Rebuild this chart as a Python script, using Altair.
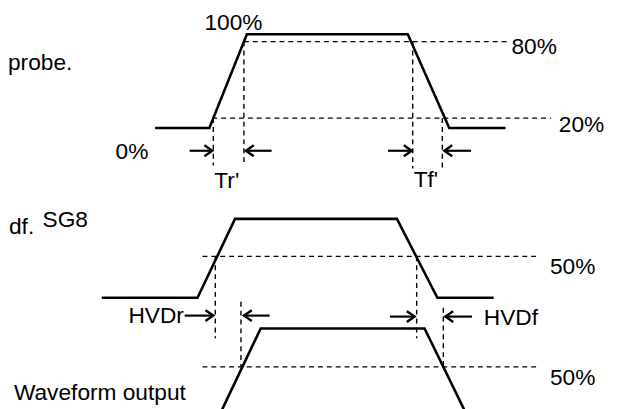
import altair as alt
import pandas as pd

# ---- waveform vertices (diagram coordinates, px of the original figure) ----
top_x = [157, 212, 250, 413, 455, 512]
top_y = [127, 127, 32, 32, 127, 127]
sg8_x = [103, 200, 238, 402, 443, 500]
sg8_y = [299, 299, 219, 219, 299, 299]
out_x = [225, 264, 430, 470]
out_y = [412, 330, 330, 412]

# ---- dashed guide lines ----
guide_x1 = [247, 215, 205, 205, 216, 247, 418, 448, 218, 422, 244, 449]
guide_x2 = [515, 558, 545, 545, 216, 247, 418, 448, 218, 422, 244, 449]
guide_y1 = [39.5, 117, 257, 369, 117, 39.5, 39.5, 117, 257, 257, 303, 309]
guide_y2 = [39.5, 117, 257, 369, 165, 165, 168, 168, 340, 340, 369, 369]

# ---- arrows (tail x, tip x, y) ----
arrow_tail = [192, 275, 393, 477, 187, 273, 395, 478]
arrow_tip = [215, 249, 417, 450, 216, 247, 420, 451]
arrow_y = [150, 150, 150, 150, 317, 317, 318, 318]

# ---- labels ----
label_text = ["100%", "80%", "20%", "0%", "Tr'", "Tf'", "probe.", "df.", "SG8",
              "HVDr", "HVDf", "50%", "50%", "Waveform output"]
label_x = [207, 518, 566, 117, 217, 419, 8, 9, 43, 130, 490, 557, 557, 14]
label_y = [28, 52, 131, 158, 188, 187, 68, 234, 227, 325, 327, 275, 387, 402]

HEAD_LEN = 8
HEAD_HALF = 5.5

# build tables
rows = []
for name, xs_, ys_ in [("top", top_x, top_y), ("sg8", sg8_x, sg8_y), ("out", out_x, out_y)]:
    for i, (a, b) in enumerate(zip(xs_, ys_)):
        rows.append({"id": name, "i": i, "x": a, "y": b})
wave = pd.DataFrame(rows)

guides = pd.DataFrame({"x": guide_x1, "x2": guide_x2, "y": guide_y1, "y2": guide_y2})

shafts = pd.DataFrame({"x": arrow_tail, "x2": arrow_tip, "y": arrow_y, "y2": arrow_y})
head_rows = []
for k, (t, tip, y) in enumerate(zip(arrow_tail, arrow_tip, arrow_y)):
    d = 1 if tip > t else -1
    pts = [(tip - d * HEAD_LEN, y - HEAD_HALF), (tip, y), (tip - d * HEAD_LEN, y + HEAD_HALF)]
    for i, (px, py) in enumerate(pts):
        head_rows.append({"id": f"h{k}", "i": i, "x": px, "y": py})
heads = pd.DataFrame(head_rows)

labels = pd.DataFrame({"t": label_text, "x": label_x, "y": label_y})

xs = alt.Scale(domain=[8, 629], nice=False, zero=False)
ys = alt.Scale(domain=[8, 409], nice=False, zero=False, reverse=True)
X = alt.X("x:Q", scale=xs, axis=None)
Y = alt.Y("y:Q", scale=ys, axis=None)

wave_layer = alt.Chart(wave).mark_line(color="black", strokeWidth=2.6, strokeJoin="miter").encode(
    x=X, y=Y, detail="id:N", order="i:Q")

guide_layer = alt.Chart(guides).mark_rule(color="black", strokeWidth=1.4, strokeDash=[5, 4]).encode(
    x=X, y=Y, x2="x2:Q", y2="y2:Q")

shaft_layer = alt.Chart(shafts).mark_rule(color="black", strokeWidth=2.2).encode(
    x=X, y=Y, x2="x2:Q", y2="y2:Q")

head_layer = alt.Chart(heads).mark_line(color="black", strokeWidth=2.4, strokeJoin="miter").encode(
    x=X, y=Y, detail="id:N", order="i:Q")

text_layer = alt.Chart(labels).mark_text(
    align="left", baseline="alphabetic", font="Liberation Sans", fontSize=23, color="black"
).encode(x=X, y=Y, text="t:N")

chart = alt.layer(guide_layer, wave_layer, shaft_layer, head_layer, text_layer).properties(
    width=621, height=401, padding=0, autosize=alt.AutoSizeParams(type="none"),
    background="white"
).configure_view(stroke=None)

chart.save("out.html", embed_options={"renderer": "svg", "actions": False})
